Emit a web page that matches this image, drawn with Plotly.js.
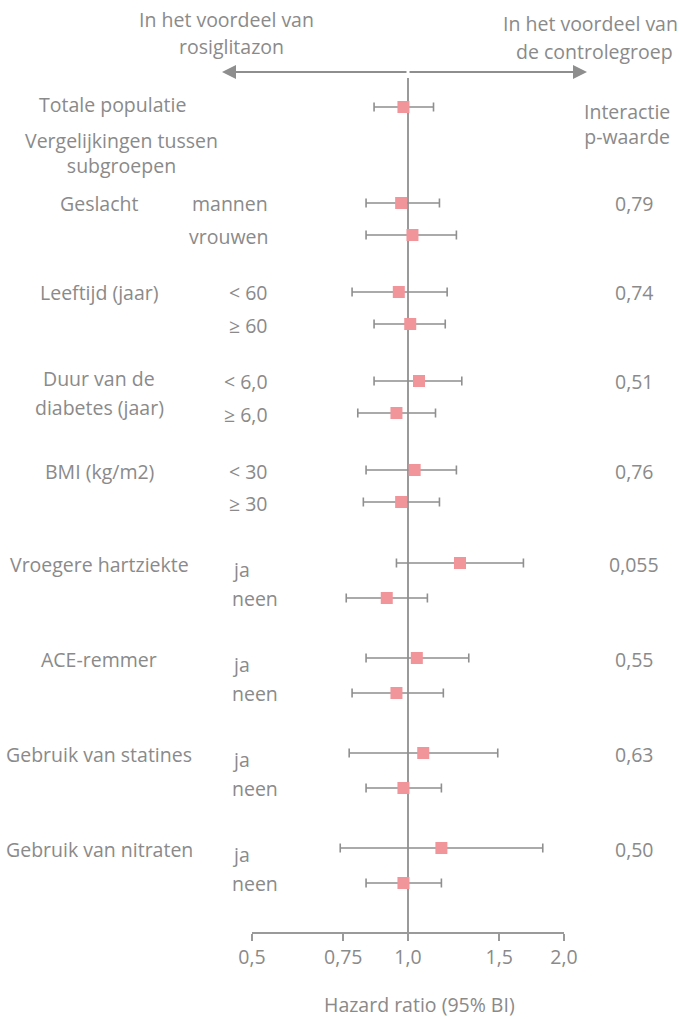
<!DOCTYPE html>
<html>
<head>
<meta charset="utf-8">
<script src="https://cdn.plot.ly/plotly-3.0.1.min.js"></script>
<style>html,body{margin:0;padding:0;background:#fff;}#chart{width:682px;height:1019px;}</style>
</head>
<body>
<div id="chart"></div>
<script>
// ---- data ----
const overallLabel = 'Totale populatie';
const overallHR = 0.98, overallLo = 0.86, overallHi = 1.12;

const groups = ['Geslacht', 'Leeftijd (jaar)', 'Duur van de<br>diabetes (jaar)', 'BMI (kg/m2)',
  'Vroegere hartziekte', 'ACE-remmer', 'Gebruik van statines', 'Gebruik van nitraten'];
const subgroups = ['mannen', 'vrouwen', '< 60', '≥ 60', '< 6,0', '≥ 6,0', '< 30', '≥ 30',
  'ja', 'neen', 'ja', 'neen', 'ja', 'neen', 'ja', 'neen'];
const hr = [0.97, 1.02, 0.96, 1.01, 1.05, 0.95, 1.03, 0.97, 1.26, 0.91, 1.04, 0.95, 1.07, 0.98, 1.16, 0.98];
const lo = [0.83, 0.83, 0.78, 0.86, 0.86, 0.80, 0.83, 0.82, 0.95, 0.76, 0.83, 0.78, 0.77, 0.83, 0.74, 0.83];
const hi = [1.15, 1.24, 1.19, 1.18, 1.27, 1.13, 1.24, 1.15, 1.67, 1.09, 1.31, 1.17, 1.49, 1.16, 1.82, 1.16];
const pValues = ['0,79', '0,74', '0,51', '0,76', '0,055', '0,55', '0,63', '0,50'];
const tickVals = [0.5, 0.75, 1.0, 1.5, 2.0];
const tickText = ['0,5', '0,75', '1,0', '1,5', '2,0'];

// ---- layout helpers ----
const W = 682, H = 1019;
const L = 252, R = 564, B = 932;
const px = x => (x - L) / (R - L);
const py = y => 1 - y / B;
const FONT = 'Open Sans, Noto Sans, sans-serif';
const TXT = '#8a8a8a';
const FS = 19.5;

function groupY(g) { return g < 4 ? 203 + g * 89 : 563 + (g - 4) * 95; }
function rowGap(g) { return g < 4 ? 32 : 35; }
const rowY = subgroups.map((s, i) => { const g = Math.floor(i / 2); return groupY(g) + (i % 2) * rowGap(g); });
const overallY = 107;

function txt(text, cx, cy, anchor, size, color) {
  return {xref: 'paper', yref: 'paper', x: px(cx), y: py(cy), text: text, showarrow: false,
    xanchor: anchor || 'center', yanchor: 'middle', align: 'center',
    font: {family: FONT, size: size || FS, color: color || TXT}};
}

const annotations = [];
// top direction labels
annotations.push(txt('In het voordeel van', 226, 20));
annotations.push(txt('rosiglitazon', 231, 47));
annotations.push(txt('In het voordeel van', 590, 23));
annotations.push(txt('de controlegroep', 594, 51));
// arrows
annotations.push({xref: 'paper', yref: 'paper', x: px(222), y: py(72), ax: 186, ay: 0, text: '',
  showarrow: true, arrowhead: 2, arrowsize: 1.4, arrowwidth: 2, arrowcolor: '#8e8e8e', standoff: 0});
annotations.push({xref: 'paper', yref: 'paper', x: px(587), y: py(72), ax: -179, ay: 0, text: '',
  showarrow: true, arrowhead: 2, arrowsize: 1.4, arrowwidth: 2, arrowcolor: '#8e8e8e', standoff: 0});
// headers
annotations.push(txt(overallLabel, 112, 104));
annotations.push(txt('Vergelijkingen tussen<br>subgroepen', 121, 153));
annotations.push(txt('Interactie<br>p-waarde', 627, 124));
// group labels and p-values
groups.forEach((g, gi) => {
  const lines = g.split('<br>');
  lines.forEach((ln, li) => {
    annotations.push(txt(ln, 99, groupY(gi) + 1 + li * 29 - (lines.length > 1 ? 3 : 0)));
  });
  annotations.push(txt(pValues[gi], 634, groupY(gi) + 1));
});
// subgroup labels
subgroups.forEach((s, i) => {
  const g = Math.floor(i / 2);
  if (g < 4) annotations.push(txt(s, 270, rowY[i] + 1, 'right'));
  else annotations.push(txt(s, 230, rowY[i] + (i % 2 === 0 ? 6 : 0), 'left'));
});
// axis title
annotations.push(txt('Hazard ratio (95% BI)', 419, 1004));

const xs = [overallHR].concat(hr);
const ys = [overallY].concat(rowY);
const errPlus = [overallHi - overallHR].concat(hi.map((h, i) => h - hr[i]));
const errMinus = [overallHR - overallLo].concat(lo.map((l, i) => hr[i] - l));

const traces = [
  {type: 'scatter', mode: 'lines', x: [1, 1], y: [78, B], line: {color: '#9a9a9a', width: 2},
    hoverinfo: 'skip', showlegend: false},
  {type: 'scatter', mode: 'markers', x: xs, y: ys,
    marker: {symbol: 'square', size: 12, color: '#f1959a', line: {width: 0}},
    error_x: {type: 'data', symmetric: false, array: errPlus, arrayminus: errMinus,
      color: '#8f8f8f', thickness: 1.6, width: 4.5},
    showlegend: false, cliponaxis: false}
];

const layout = {
  width: W, height: H,
  margin: {l: L, r: W - R, t: 0, b: H - B, pad: 0},
  paper_bgcolor: '#ffffff', plot_bgcolor: '#ffffff',
  showlegend: false,
  xaxis: {type: 'log', range: [Math.log10(0.5), Math.log10(2)], tickvals: tickVals, ticktext: tickText,
    showgrid: false, zeroline: false, showline: true, linecolor: '#9a9a9a', linewidth: 2,
    ticks: 'outside', ticklen: 7, tickwidth: 2, tickcolor: '#9a9a9a', ticklabelstandoff: 0,
    tickfont: {family: FONT, size: FS, color: TXT}, fixedrange: true},
  yaxis: {range: [B, 0], visible: false, showgrid: false, zeroline: false, fixedrange: true},
  annotations: annotations
};

Plotly.newPlot('chart', traces, layout, {displayModeBar: false, staticPlot: true});
</script>
</body>
</html>
